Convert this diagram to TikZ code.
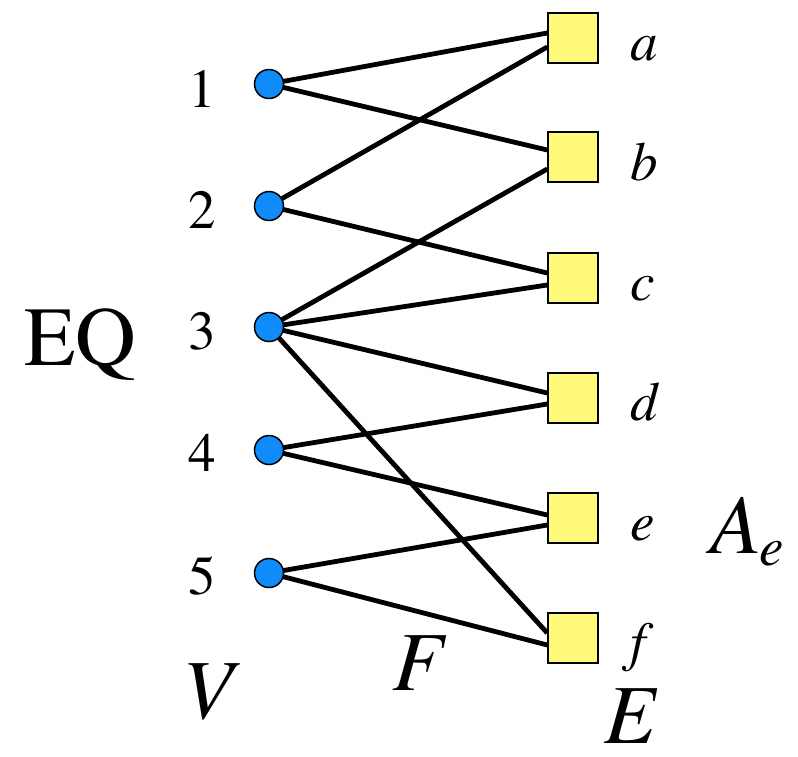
\documentclass[tikz,border=0pt]{standalone}
\usepackage{fontspec}
\newfontfamily\tms{TeX Gyre Termes}
\usetikzlibrary{backgrounds}
\definecolor{vblue}{RGB}{16,140,250}
\definecolor{eyellow}{RGB}{255,250,122}
\begin{document}
\begin{tikzpicture}[x=1pt,y=-1pt,
  vnode/.style={circle,draw=black,line width=1.5pt,fill=vblue,minimum size=29pt,inner sep=0pt},
  enode/.style={rectangle,draw=black,line width=1.5pt,fill=eyellow,minimum size=50pt,inner sep=0pt},
  edge/.style={line width=4.8pt,black},
  numlab/.style={anchor=base,font=\tms\fontsize{55}{62}\selectfont,inner sep=0pt},
  letlab/.style={anchor=base west,font=\tms\fontsize{55}{62}\selectfont\itshape,inner sep=0pt},
  biglab/.style={anchor=base west,font=\tms\fontsize{84}{94}\selectfont,inner sep=0pt},
  bigit/.style={biglab,font=\tms\fontsize{84}{94}\selectfont\itshape}]
\useasboundingbox (0,0) rectangle (798,756);
% vertices
\node[vnode] (v1) at (269,84) {};
\node[vnode] (v2) at (269,206) {};
\node[vnode] (v3) at (269,327) {};
\node[vnode] (v4) at (269,450) {};
\node[vnode] (v5) at (269,573) {};
% hyperedges
\node[enode] (ea) at (573,38) {};
\node[enode] (eb) at (573,157) {};
\node[enode] (ec) at (573,278) {};
\node[enode] (ed) at (573,398) {};
\node[enode] (ee) at (573,518) {};
\node[enode] (ef) at (573,638) {};
% connectors
\begin{scope}[on background layer]
\draw[edge] (v1.center) -- ([yshift=5pt]ea.west);
\draw[edge] (v2.center) -- ([yshift=-9pt]ea.west);
\draw[edge] (v1.center) -- ([yshift=7pt]eb.west);
\draw[edge] (v3.center) -- ([yshift=-12pt]eb.west);
\draw[edge] (v2.center) -- ([yshift=5pt]ec.west);
\draw[edge] (v3.center) -- ([yshift=-7pt]ec.west);
\draw[edge] (v3.center) -- ([yshift=5pt]ed.west);
\draw[edge] (v4.center) -- ([yshift=-6pt]ed.west);
\draw[edge] (v4.center) -- ([yshift=3pt]ee.west);
\draw[edge] (v5.center) -- ([yshift=-7pt]ee.west);
\draw[edge] (v3.center) -- ([yshift=5pt]ef.west);
\draw[edge] (v5.center) -- ([yshift=-7pt]ef.west);
\end{scope}
% vertex labels
\node[numlab] (l1) at (202,107) {1};
\node[numlab] (l2) at (202,228) {2};
\node[numlab] (l3) at (202,349) {3};
\node[numlab] (l4) at (202,471) {4};
\node[numlab] (l5) at (202,594) {5};
% edge labels
\node[letlab] (la) at (630,60) {a};
\node[letlab] (lb) at (630,180) {b};
\node[letlab] (lc) at (630,300) {c};
\node[letlab] (ld) at (630,420) {d};
\node[letlab] (le) at (630,540) {e};
\node[letlab] (lf) at (630,660) {f};
% set labels
\node[biglab] (eq) at (24,365) {EQ};
\node[bigit] (lV) at (182,718) {V};
\node[bigit] (lF) at (392,690) {F};
\node[bigit] (lE) at (604,743) {E};
\node[bigit] (lA) at (710,553) {A\kern-2pt\raisebox{-12pt}{\fontsize{55}{62}\selectfont e}};
\end{tikzpicture}
\end{document}
